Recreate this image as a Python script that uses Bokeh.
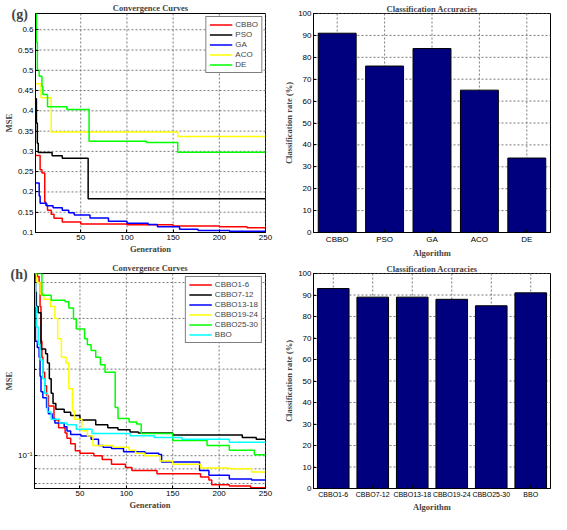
from bokeh.plotting import figure
from bokeh.layouts import column, row
from bokeh.models import FixedTicker, Title, Span
from bokeh.embed import file_html
from bokeh.resources import INLINE

# ---------------- (g) convergence curves ----------------
g_cbbo_gen = [1, 6, 8, 11, 12, 14, 18, 21, 30, 50, 100, 150, 200, 230, 250]
g_cbbo_val = [0.29, 0.255, 0.247, 0.175, 0.167, 0.155, 0.145, 0.135, 0.126, 0.121, 0.119, 0.116, 0.114, 0.112, 0.111]
g_pso_gen = [1, 2, 3, 4, 19, 30, 58, 250]
g_pso_val = [0.43, 0.37, 0.32, 0.297, 0.289, 0.283, 0.183, 0.183]
g_ga_gen = [1, 5, 6, 13, 20, 30, 37, 43, 60, 80, 100, 123, 133, 157, 177, 211, 250]
g_ga_val = [0.222, 0.19, 0.172, 0.166, 0.161, 0.155, 0.149, 0.143, 0.136, 0.128, 0.123, 0.12, 0.114, 0.108, 0.105, 0.103, 0.101]
g_aco_gen = [1, 7, 18, 155, 250]
g_aco_val = [0.467, 0.432, 0.348, 0.337, 0.337]
g_de_gen = [1, 2, 3, 5, 8, 9, 14, 35, 59, 121, 155, 250]
g_de_val = [0.64, 0.57, 0.50, 0.485, 0.46, 0.44, 0.41, 0.403, 0.325, 0.322, 0.298, 0.298]
g_names = ["CBBO", "PSO", "GA", "ACO", "DE"]
g_yticks = [0.1, 0.15, 0.2, 0.25, 0.3, 0.35, 0.4, 0.45, 0.5, 0.55, 0.6]
g_ytick_labels = ["0.1", "0.15", "0.2", "0.25", "0.3", "0.35", "0.4", "0.45", "0.5", "0.55", "0.6"]
gen_ticks = [50, 100, 150, 200, 250]

# ---------------- (g) accuracies ----------------
g_algs = ["CBBO", "PSO", "GA", "ACO", "DE"]
g_acc = [91, 76, 84, 65, 34]

# ---------------- (h) convergence curves ----------------
h_c16_gen = [1, 4, 6, 7, 8, 9, 10, 12, 14, 16, 22, 27, 34, 36, 40, 45, 50, 65, 74, 84, 99, 106, 133, 180, 189, 192, 211, 234, 250]
h_c16_val = [0.43, 0.42, 0.40, 0.33, 0.25, 0.22, 0.195, 0.175, 0.162, 0.149, 0.133, 0.125, 0.120, 0.115, 0.110, 0.104, 0.102, 0.100, 0.097, 0.0934, 0.091, 0.0888, 0.0866, 0.0844, 0.0823, 0.0793, 0.0785, 0.0773, 0.0773]
h_c712_gen = [1, 2, 3, 5, 8, 13, 15, 17, 19, 21, 24, 33, 40, 50, 67, 80, 91, 104, 113, 150, 225, 240, 250]
h_c712_val = [0.43, 0.37, 0.33, 0.314, 0.235, 0.226, 0.21, 0.185, 0.165, 0.152, 0.145, 0.1416, 0.138, 0.133, 0.128, 0.125, 0.123, 0.121, 0.12, 0.118, 0.1157, 0.114, 0.114]
h_c1318_gen = [1, 2, 4, 6, 7, 8, 10, 14, 16, 20, 23, 33, 36, 40, 51, 62, 70, 75, 84, 97, 120, 135, 138, 179, 189, 211, 235, 250]
h_c1318_val = [0.41, 0.25, 0.2377, 0.22, 0.189, 0.167, 0.159, 0.147, 0.14, 0.1346, 0.130, 0.126, 0.1218, 0.1186, 0.117, 0.114, 0.1086, 0.107, 0.1059, 0.1033, 0.102, 0.101, 0.0951, 0.0888, 0.0855, 0.0829, 0.0823, 0.0823]
h_c1924_gen = [1, 3, 7, 11, 18, 23, 26, 30, 35, 38, 42, 44, 52, 58, 64, 86, 103, 110, 120, 136, 150, 180, 211, 235, 250]
h_c1924_val = [0.43, 0.40, 0.365, 0.35, 0.33, 0.30, 0.255, 0.22, 0.21, 0.171, 0.143, 0.134, 0.122, 0.117, 0.1086, 0.107, 0.1045, 0.102, 0.10, 0.0958, 0.0934, 0.0906, 0.090, 0.0877, 0.0877]
h_c2530_gen = [1, 9, 19, 34, 38, 43, 46, 55, 58, 62, 67, 72, 77, 88, 91, 103, 111, 116, 150, 187, 211, 238, 250]
h_c2530_val = [0.43, 0.361, 0.347, 0.343, 0.326, 0.299, 0.276, 0.255, 0.243, 0.232, 0.220, 0.207, 0.195, 0.147, 0.1346, 0.131, 0.129, 0.1195, 0.113, 0.1086, 0.1045, 0.1007, 0.1007]
h_bbo_gen = [1, 2, 3, 5, 7, 10, 12, 15, 19, 28, 36, 46, 63, 104, 130, 160, 211, 250]
h_bbo_val = [0.40, 0.33, 0.28, 0.244, 0.215, 0.185, 0.165, 0.142, 0.134, 0.130, 0.128, 0.1235, 0.1195, 0.1172, 0.1157, 0.114, 0.1114, 0.111]
h_names = ["CBBO1-6", "CBBO7-12", "CBBO13-18", "CBBO19-24", "CBBO25-30", "BBO"]
h_major = [0.1]
h_major_labels = ["10\u207b\u00b9"]
h_minor = [0.08, 0.09, 0.2, 0.3, 0.4]

# ---------------- (h) accuracies ----------------
h_algs = ["CBBO1-6", "CBBO7-12", "CBBO13-18", "CBBO19-24", "CBBO25-30", "BBO"]
h_acc = [93, 89, 89, 88, 85, 91]
acc_ticks = [0, 10, 20, 30, 40, 50, 60, 70, 80, 90, 100]

panel_tags = ["(g)", "(h)"]

SANS = "Liberation Sans"
SERIF = "Liberation Serif"
GRID = "#7a7a7a"
DASH = "2 2"


def style(p):
    p.outline_line_color = "black"
    p.outline_line_width = 1
    p.title.text_font = SERIF
    p.title.text_font_style = "bold"
    p.title.text_font_size = "8.5px"
    p.title.align = "center"
    p.title.standoff = 0
    p.title.offset = 0
    for ax in p.axis:
        ax.major_label_text_font = SANS
        ax.major_label_text_font_size = "8px"
        ax.major_label_text_color = "black"
        ax.axis_label_text_font = SERIF
        ax.axis_label_text_font_style = "bold"
        ax.axis_label_text_font_size = "8.5px"
        ax.axis_label_standoff = 1
        ax.major_label_standoff = 2
        ax.major_tick_in = 3
        ax.major_tick_out = 0
        ax.minor_tick_in = 0
        ax.minor_tick_out = 0
        ax.axis_line_color = "black"
        ax.major_tick_line_color = "black"
    p.xgrid.grid_line_color = None
    p.ygrid.grid_line_color = None


def grid_spans(p, xs, ys):
    for v in xs:
        p.add_layout(Span(location=v, dimension="height", line_color=GRID, line_width=1,
                          line_dash=DASH, level="underlay"))
    for v in ys:
        p.add_layout(Span(location=v, dimension="width", line_color=GRID, line_width=1,
                          line_dash=DASH, level="underlay"))


def style_legend(p, gw):
    lg = p.legend[0]
    lg.location = "top_right"
    lg.border_line_color = "black"
    lg.border_line_width = 1
    lg.background_fill_alpha = 1
    lg.label_text_font = SANS
    lg.label_text_font_size = "8px"
    lg.label_height = 9
    lg.glyph_height = 9
    lg.glyph_width = gw
    lg.label_standoff = 3
    lg.spacing = 1
    lg.padding = 3
    lg.margin = 3


def tag(p, text):
    p.add_layout(Title(text=text, align="left", offset=-24, standoff=-16,
                       vertical_align="bottom", text_font=SERIF, text_font_style="bold",
                       text_font_size="14px"), "above")


def bar_fig(algs, acc, height, bottom, cat_size):
    pos = list(range(1, len(algs) + 1))
    p = figure(width=270, height=height, x_range=(0.5, len(algs) + 0.5), y_range=(0, 100),
               title="Classification Accuracies", output_backend="svg", toolbar_location=None,
               min_border_left=30, min_border_right=1, min_border_top=12, min_border_bottom=bottom)
    style(p)
    grid_spans(p, pos, acc_ticks)
    p.vbar(x=pos, top=acc, width=0.8, fill_color="#00007f", line_color="black", line_width=1)
    p.xaxis.ticker = FixedTicker(ticks=pos)
    p.xaxis.major_label_overrides = dict(zip(pos, algs))
    p.xaxis.major_label_text_font_size = cat_size
    p.yaxis.ticker = FixedTicker(ticks=acc_ticks)
    p.xaxis.axis_label = "Algorithm"
    p.yaxis.axis_label = "Classification rate (%)"
    return p


# ---- top-left ----
p1 = figure(width=281, height=260, x_range=(1, 250), y_range=(0.1, 0.64),
            title="Convergence Curves", output_backend="svg", toolbar_location=None,
            min_border_left=26, min_border_right=16, min_border_top=12, min_border_bottom=25)
style(p1)
grid_spans(p1, gen_ticks, g_yticks)
g_series = [(g_cbbo_gen, g_cbbo_val, "#ff0000"), (g_pso_gen, g_pso_val, "#000000"),
            (g_ga_gen, g_ga_val, "#0000ff"), (g_aco_gen, g_aco_val, "#ffff00"),
            (g_de_gen, g_de_val, "#00ff00")]
for (xs, ys, c), nm in zip(g_series, g_names):
    p1.step(xs, ys, mode="after", line_color=c, line_width=1.5, legend_label=nm)
p1.xaxis.ticker = FixedTicker(ticks=gen_ticks)
p1.yaxis.ticker = FixedTicker(ticks=g_yticks)
p1.yaxis.major_label_overrides = dict(zip(g_yticks, g_ytick_labels))
p1.xaxis.axis_label = "Generation"
p1.yaxis.axis_label = "MSE"
style_legend(p1, 23)
tag(p1, panel_tags[0])

# ---- top-right ----
p2 = bar_fig(g_algs, g_acc, 260, 25, "8px")

# ---- bottom-left ----
p3 = figure(width=281, height=254, x_range=(1, 250), y_range=(0.0769, 0.43), y_axis_type="log",
            title="Convergence Curves", output_backend="svg", toolbar_location=None,
            min_border_left=26, min_border_right=16, min_border_top=12, min_border_bottom=19)
style(p3)
grid_spans(p3, gen_ticks, h_major + h_minor)
h_series = [(h_c16_gen, h_c16_val, "#ff0000"), (h_c712_gen, h_c712_val, "#000000"),
            (h_c1318_gen, h_c1318_val, "#0000ff"), (h_c1924_gen, h_c1924_val, "#ffff00"),
            (h_c2530_gen, h_c2530_val, "#00ff00"), (h_bbo_gen, h_bbo_val, "#00ffff")]
for (xs, ys, c), nm in zip(h_series, h_names):
    p3.step(xs, ys, mode="after", line_color=c, line_width=1.5, legend_label=nm)
p3.xaxis.ticker = FixedTicker(ticks=gen_ticks)
p3.yaxis.ticker = FixedTicker(ticks=h_major, minor_ticks=h_minor)
p3.yaxis.major_label_overrides = dict(zip(h_major, h_major_labels))
p3.xaxis.axis_label = "Generation"
p3.yaxis.axis_label = "MSE"
p3.yaxis.minor_tick_in = 2
style_legend(p3, 23)
tag(p3, panel_tags[1])

# ---- bottom-right ----
p4 = bar_fig(h_algs, h_acc, 254, 19, "7px")

layout = column(row(p1, p2), row(p3, p4))
open("out.html", "w").write(file_html(layout, INLINE))
